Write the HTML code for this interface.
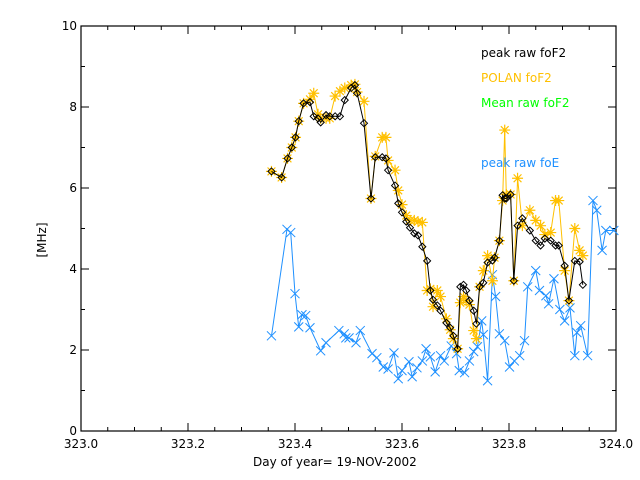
<!DOCTYPE html>
<html><head><meta charset="utf-8"><style>
html,body{margin:0;padding:0;background:#fff;}
svg{display:block;font-family:"DejaVu Sans","Liberation Sans",sans-serif;}
</style></head><body>
<svg id="chart" width="640" height="480" viewBox="0 0 640 480" xmlns="http://www.w3.org/2000/svg">
<rect x="0" y="0" width="640" height="480" fill="#fff"/>
<g id="axes"></g>
<g id="series"></g>
<text x="253" y="466" font-size="12" fill="#000">Day of year= 19-NOV-2002</text>
<text x="0" y="0" font-size="12" fill="#000" text-anchor="middle" transform="translate(46,240) rotate(-90)">[MHz]</text>
<text x="481" y="57" font-size="12" fill="#000">peak raw foF2</text>
<text x="481" y="82" font-size="12" fill="#ffc000">POLAN foF2</text>
<text x="481" y="107" font-size="12" fill="#00ff00">Mean raw foF2</text>
<text x="481" y="167" font-size="12" fill="#1e90ff">peak raw foE</text>
</svg>
<script>
const xTicks = [323.0, 323.2, 323.4, 323.6, 323.8, 324.0];
const xTickLabels = ["323.0","323.2","323.4","323.6","323.8","324.0"];
const yTicks = [0, 2, 4, 6, 8, 10];
const yTickLabels = ["0","2","4","6","8","10"];
const f2Days = [323.356,323.375,323.386,323.394,323.401,323.407,323.416,323.428,323.435,323.443,323.448,323.458,323.465,323.475,323.484,323.493,323.505,323.512,323.516,323.529,323.542,323.550,323.563,323.570,323.574,323.587,323.593,323.600,323.608,323.615,323.623,323.630,323.638,323.647,323.653,323.658,323.666,323.672,323.683,323.690,323.696,323.704,323.709,323.715,323.720,323.726,323.734,323.739,323.745,323.752,323.760,323.769,323.773,323.782,323.788,323.792,323.795,323.803,323.809,323.816,323.825,323.839,323.850,323.859,323.867,323.878,323.887,323.893,323.904,323.912,323.923,323.932,323.938];
const polanValues = [6.41,6.26,6.73,7.00,7.25,7.65,8.09,8.19,8.34,7.82,7.72,7.72,7.72,8.27,8.39,8.47,8.54,8.56,8.37,8.14,5.74,6.78,7.25,7.25,6.68,6.44,5.94,5.59,5.32,5.20,5.20,5.17,5.15,3.47,3.51,3.07,3.47,3.32,2.77,2.50,2.28,2.03,3.17,3.32,3.22,3.12,2.48,2.28,3.56,3.96,4.33,3.71,4.28,4.70,5.69,7.43,5.84,5.84,3.71,6.24,5.07,5.45,5.20,5.07,4.85,4.90,5.69,5.69,3.96,3.22,5.00,4.46,4.33];
const peakF2Values = [6.41,6.26,6.73,7.00,7.25,7.65,8.09,8.12,7.77,7.72,7.62,7.80,7.77,7.77,7.77,8.17,8.47,8.54,8.34,7.60,5.74,6.76,6.76,6.73,6.44,6.06,5.62,5.40,5.17,5.02,4.88,4.83,4.55,4.20,3.47,3.24,3.10,2.97,2.67,2.55,2.35,2.03,3.56,3.61,3.47,3.22,2.97,2.65,3.56,3.66,4.16,4.21,4.28,4.70,5.82,5.74,5.74,5.84,3.71,5.07,5.25,4.95,4.70,4.58,4.75,4.70,4.58,4.58,4.08,3.22,4.20,4.18,3.61];
const foEDays = [323.356,323.385,323.392,323.400,323.407,323.413,323.420,323.428,323.448,323.458,323.482,323.492,323.495,323.501,323.514,323.522,323.544,323.553,323.565,323.574,323.585,323.593,323.600,323.613,323.619,323.628,323.638,323.645,323.653,323.662,323.672,323.679,323.692,323.702,323.707,323.717,323.726,323.734,323.741,323.749,323.752,323.760,323.769,323.775,323.782,323.792,323.801,323.810,323.820,323.829,323.835,323.850,323.857,323.869,323.874,323.884,323.895,323.904,323.914,323.923,323.927,323.934,323.947,323.957,323.964,323.974,323.981,323.996];
const foEValues = [2.35,4.98,4.90,3.39,2.57,2.87,2.85,2.55,1.98,2.18,2.48,2.40,2.30,2.30,2.18,2.48,1.91,1.81,1.58,1.53,1.93,1.29,1.49,1.71,1.34,1.56,1.73,2.03,1.83,1.46,1.86,1.73,2.10,1.91,1.49,1.44,1.73,1.96,2.08,2.72,2.38,1.24,3.86,3.32,2.40,2.23,1.58,1.73,1.86,2.23,3.56,3.96,3.47,3.34,3.14,3.76,3.00,2.72,3.04,1.86,2.43,2.60,1.86,5.69,5.45,4.46,4.95,4.95];

const X0=81, X1=616, Y0=431, Y1=26;
function xs(d){return X0+(d-323)/(324-323)*(X1-X0);}
function ys(v){return Y0-(v-0)/(10-0)*(Y0-Y1);}
const NS="http://www.w3.org/2000/svg";
function mk(tag,attrs,parent){const e=document.createElementNS(NS,tag);for(const k in attrs)e.setAttribute(k,attrs[k]);parent.appendChild(e);return e;}
const axes=document.getElementById('axes');
const frame=mk('rect',{x:X0,y:Y1,width:X1-X0,height:Y0-Y1,fill:'none',stroke:'#000','stroke-width':1.2},axes);


for(let d=323;d<=324.0001;d+=0.05){
  const major=Math.abs(Math.round(d*5)-d*5)<1e-6;const L=major?8:4;const x=xs(d);
  const t1=mk('line',{x1:x,y1:Y0,x2:x,y2:Y0-L,stroke:'#000'},axes);
  
  
  const t2=mk('line',{x1:x,y1:Y1,x2:x,y2:Y1+L,stroke:'#000'},axes);
  
  
}
for(let v=0;v<=10;v+=1){
  const L=(v%2===0)?8:4;const y=ys(v);
  const t1=mk('line',{x1:X0,y1:y,x2:X0+L,y2:y,stroke:'#000'},axes);
  
  
  const t2=mk('line',{x1:X1,y1:y,x2:X1-L,y2:y,stroke:'#000'},axes);
  
  
}
xTicks.forEach((d,i)=>{
  const t=mk('text',{x:xs(d),y:Y0+17,'font-size':12,'text-anchor':'middle',fill:'#000'},axes);
  t.textContent=xTickLabels[i];
  
  
});
yTicks.forEach((v,i)=>{
  const t=mk('text',{x:X0-4,y:ys(v)+4,'font-size':12,'text-anchor':'end',fill:'#000'},axes);
  t.textContent=yTickLabels[i];
  
  
});
const ser=document.getElementById('series');
function line(days,vals,color,name){
  const pts=days.map((d,i)=>xs(d).toFixed(1)+','+ys(vals[i]).toFixed(1)).join(' ');
  const p=mk('polyline',{points:pts,fill:'none',stroke:color,'stroke-width':1},ser);
  
  
}
line(foEDays,foEValues,'#1e90ff','foe-line');
foEDays.forEach((d,i)=>{
  const x=xs(d),y=ys(foEValues[i]),r=4.5;
  const g=mk('path',{d:`M${x-r},${y-r}L${x+r},${y+r}M${x-r},${y+r}L${x+r},${y-r}`,stroke:'#1e90ff','stroke-width':1,fill:'none'},ser);
  
  
});
line(f2Days,polanValues,'#ffc000','polan-line');
f2Days.forEach((d,i)=>{
  const x=xs(d),y=ys(polanValues[i]),r=5.5,q=3.9;
  const g=mk('path',{d:`M${x-r},${y}L${x+r},${y}M${x},${y-r}L${x},${y+r}M${x-q},${y-q}L${x+q},${y+q}M${x-q},${y+q}L${x+q},${y-q}`,stroke:'#ffc000','stroke-width':1.2,fill:'none'},ser);
  
  
});
line(f2Days,peakF2Values,'#000','peak-fof2-line');
f2Days.forEach((d,i)=>{
  const x=xs(d),y=ys(peakF2Values[i]),r=3.5;
  const g=mk('path',{d:`M${x-r},${y}L${x},${y-r}L${x+r},${y}L${x},${y+r}Z`,stroke:'#000','stroke-width':1,fill:'none'},ser);
  
  
});
</script>
</body></html>
